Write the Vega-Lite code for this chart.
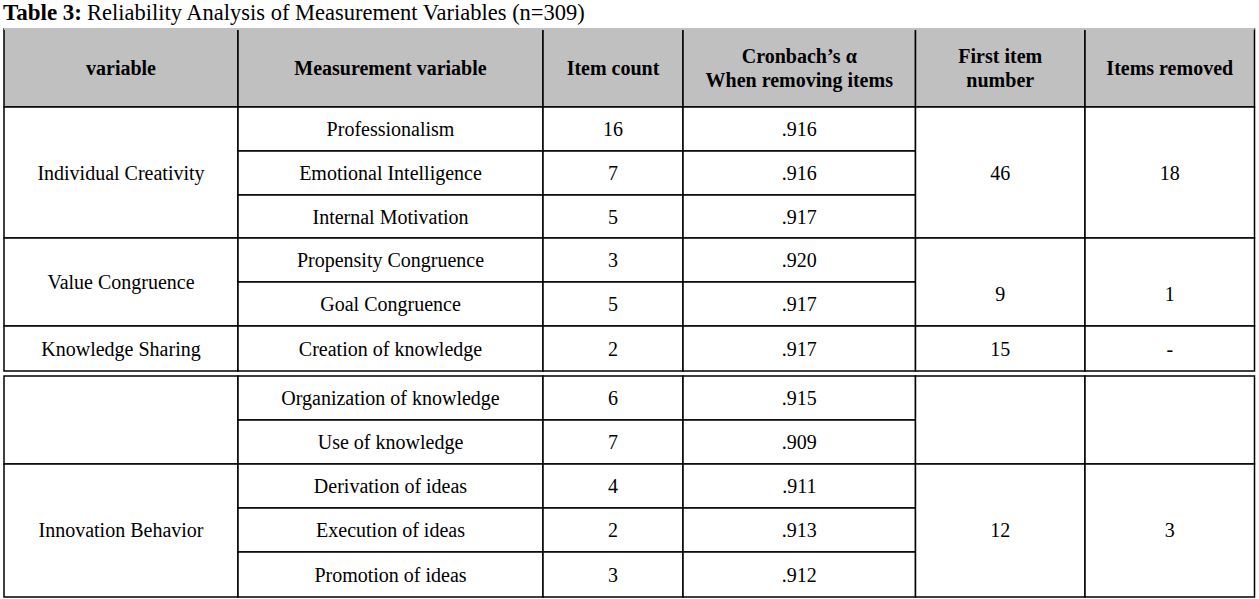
{
  "$schema": "https://vega.github.io/schema/vega-lite/v6.json",
  "width": 1259,
  "height": 599,
  "padding": 0,
  "autosize": {"type": "none"},
  "background": "white",
  "config": {"view": {"stroke": null}},
  "datasets": {
    "cells": [
      {"part": "header", "label": "variable", "c0": 0, "c1": 1, "r0": 0, "r1": 1},
      {"part": "header", "label": "Measurement variable", "c0": 1, "c1": 2, "r0": 0, "r1": 1},
      {"part": "header", "label": "Item count", "c0": 2, "c1": 3, "r0": 0, "r1": 1},
      {"part": "header", "label": "Cronbach’s α\nWhen removing items", "c0": 3, "c1": 4, "r0": 0, "r1": 1},
      {"part": "header", "label": "First item\nnumber", "c0": 4, "c1": 5, "r0": 0, "r1": 1},
      {"part": "header", "label": "Items removed", "c0": 5, "c1": 6, "r0": 0, "r1": 1},

      {"part": "body", "label": "Individual Creativity", "c0": 0, "c1": 1, "r0": 1, "r1": 4},
      {"part": "body", "label": "Value Congruence", "c0": 0, "c1": 1, "r0": 4, "r1": 6},
      {"part": "body", "label": "Knowledge Sharing", "c0": 0, "c1": 1, "r0": 6, "r1": 7},
      {"part": "body", "label": "", "c0": 0, "c1": 1, "r0": 8, "r1": 10},
      {"part": "body", "label": "Innovation Behavior", "c0": 0, "c1": 1, "r0": 10, "r1": 13},

      {"part": "body", "label": "Professionalism", "c0": 1, "c1": 2, "r0": 1, "r1": 2},
      {"part": "body", "label": "Emotional Intelligence", "c0": 1, "c1": 2, "r0": 2, "r1": 3},
      {"part": "body", "label": "Internal Motivation", "c0": 1, "c1": 2, "r0": 3, "r1": 4},
      {"part": "body", "label": "Propensity Congruence", "c0": 1, "c1": 2, "r0": 4, "r1": 5},
      {"part": "body", "label": "Goal Congruence", "c0": 1, "c1": 2, "r0": 5, "r1": 6},
      {"part": "body", "label": "Creation of knowledge", "c0": 1, "c1": 2, "r0": 6, "r1": 7},
      {"part": "body", "label": "Organization of knowledge", "c0": 1, "c1": 2, "r0": 8, "r1": 9},
      {"part": "body", "label": "Use of knowledge", "c0": 1, "c1": 2, "r0": 9, "r1": 10},
      {"part": "body", "label": "Derivation of ideas", "c0": 1, "c1": 2, "r0": 10, "r1": 11},
      {"part": "body", "label": "Execution of ideas", "c0": 1, "c1": 2, "r0": 11, "r1": 12},
      {"part": "body", "label": "Promotion of ideas", "c0": 1, "c1": 2, "r0": 12, "r1": 13},

      {"part": "body", "label": "16", "c0": 2, "c1": 3, "r0": 1, "r1": 2},
      {"part": "body", "label": "7", "c0": 2, "c1": 3, "r0": 2, "r1": 3},
      {"part": "body", "label": "5", "c0": 2, "c1": 3, "r0": 3, "r1": 4},
      {"part": "body", "label": "3", "c0": 2, "c1": 3, "r0": 4, "r1": 5},
      {"part": "body", "label": "5", "c0": 2, "c1": 3, "r0": 5, "r1": 6},
      {"part": "body", "label": "2", "c0": 2, "c1": 3, "r0": 6, "r1": 7},
      {"part": "body", "label": "6", "c0": 2, "c1": 3, "r0": 8, "r1": 9},
      {"part": "body", "label": "7", "c0": 2, "c1": 3, "r0": 9, "r1": 10},
      {"part": "body", "label": "4", "c0": 2, "c1": 3, "r0": 10, "r1": 11},
      {"part": "body", "label": "2", "c0": 2, "c1": 3, "r0": 11, "r1": 12},
      {"part": "body", "label": "3", "c0": 2, "c1": 3, "r0": 12, "r1": 13},

      {"part": "body", "label": ".916", "c0": 3, "c1": 4, "r0": 1, "r1": 2},
      {"part": "body", "label": ".916", "c0": 3, "c1": 4, "r0": 2, "r1": 3},
      {"part": "body", "label": ".917", "c0": 3, "c1": 4, "r0": 3, "r1": 4},
      {"part": "body", "label": ".920", "c0": 3, "c1": 4, "r0": 4, "r1": 5},
      {"part": "body", "label": ".917", "c0": 3, "c1": 4, "r0": 5, "r1": 6},
      {"part": "body", "label": ".917", "c0": 3, "c1": 4, "r0": 6, "r1": 7},
      {"part": "body", "label": ".915", "c0": 3, "c1": 4, "r0": 8, "r1": 9},
      {"part": "body", "label": ".909", "c0": 3, "c1": 4, "r0": 9, "r1": 10},
      {"part": "body", "label": ".911", "c0": 3, "c1": 4, "r0": 10, "r1": 11},
      {"part": "body", "label": ".913", "c0": 3, "c1": 4, "r0": 11, "r1": 12},
      {"part": "body", "label": ".912", "c0": 3, "c1": 4, "r0": 12, "r1": 13},

      {"part": "body", "label": "46", "c0": 4, "c1": 5, "r0": 1, "r1": 4},
      {"part": "body", "label": "9", "c0": 4, "c1": 5, "r0": 4, "r1": 6},
      {"part": "body", "label": "15", "c0": 4, "c1": 5, "r0": 6, "r1": 7},
      {"part": "body", "label": "", "c0": 4, "c1": 5, "r0": 8, "r1": 10},
      {"part": "body", "label": "12", "c0": 4, "c1": 5, "r0": 10, "r1": 13},

      {"part": "body", "label": "18", "c0": 5, "c1": 6, "r0": 1, "r1": 4},
      {"part": "body", "label": "1", "c0": 5, "c1": 6, "r0": 4, "r1": 6},
      {"part": "body", "label": "-", "c0": 5, "c1": 6, "r0": 6, "r1": 7},
      {"part": "body", "label": "", "c0": 5, "c1": 6, "r0": 8, "r1": 10},
      {"part": "body", "label": "3", "c0": 5, "c1": 6, "r0": 10, "r1": 13}
    ]
  },
  "layer": [
    {
      "data": {"name": "cells"},
      "mark": {"type": "rect", "stroke": "#000000", "strokeWidth": 1.5},
      "encoding": {
        "x": {"field": "c0", "type": "quantitative", "axis": null,
              "scale": {"domain": [0, 1, 2, 3, 4, 5, 6], "range": [4, 238, 543, 683, 915.5, 1085, 1254.5], "zero": false, "nice": false}},
        "x2": {"field": "c1"},
        "y": {"field": "r0", "type": "quantitative", "axis": null,
              "scale": {"domain": [-1, 0, 1, 2, 3, 4, 5, 6, 7, 8, 9, 10, 11, 12, 13], "range": [0, 29, 107, 151, 195, 238, 282, 326, 371, 376, 420, 464, 508, 552, 597], "zero": false, "nice": false}},
        "y2": {"field": "r1"},
        "fill": {"field": "part", "type": "nominal", "legend": null,
                 "scale": {"domain": ["header", "body"], "range": ["#c0c0c0", "#ffffff"]}}
      }
    },
    {
      "data": {"values": [{"r": 0, "c0": 0, "c1": 6}]},
      "mark": {"type": "rule", "color": "#c0c0c0", "strokeWidth": 2},
      "encoding": {
        "x": {"field": "c0", "type": "quantitative"},
        "x2": {"field": "c1"},
        "y": {"field": "r", "type": "quantitative"}
      }
    },
    {
      "data": {"name": "cells"},
      "transform": [
        {"filter": "datum.part === 'header' && indexof(datum.label, '\\n') < 0"},
        {"calculate": "(datum.c0 + datum.c1) / 2", "as": "cx"},
        {"calculate": "(datum.r0 + datum.r1) / 2", "as": "cy"}
      ],
      "mark": {"type": "text", "font": "Liberation Serif", "fontSize": 20, "fontWeight": "bold", "align": "center", "baseline": "middle", "dy": 1, "color": "#000000"},
      "encoding": {
        "x": {"field": "cx", "type": "quantitative"},
        "y": {"field": "cy", "type": "quantitative"},
        "text": {"field": "label", "type": "nominal"}
      }
    },
    {
      "data": {"name": "cells"},
      "transform": [
        {"filter": "datum.part === 'header' && indexof(datum.label, '\\n') >= 0"},
        {"calculate": "(datum.c0 + datum.c1) / 2", "as": "cx"},
        {"calculate": "(datum.r0 + datum.r1) / 2", "as": "cy"}
      ],
      "mark": {"type": "text", "font": "Liberation Serif", "fontSize": 20, "fontWeight": "bold", "lineBreak": "\n", "lineHeight": 24, "align": "center", "baseline": "middle", "dy": -11, "color": "#000000"},
      "encoding": {
        "x": {"field": "cx", "type": "quantitative"},
        "y": {"field": "cy", "type": "quantitative"},
        "text": {"field": "label", "type": "nominal"}
      }
    },
    {
      "data": {"name": "cells"},
      "transform": [
        {"filter": "datum.part === 'body' && !(datum.r0 === 4 && datum.c0 >= 4)"},
        {"calculate": "(datum.c0 + datum.c1) / 2", "as": "cx"},
        {"calculate": "(datum.r0 + datum.r1) / 2", "as": "cy"}
      ],
      "mark": {"type": "text", "font": "Liberation Serif", "fontSize": 20, "align": "center", "baseline": "middle", "dy": 1, "color": "#000000"},
      "encoding": {
        "x": {"field": "cx", "type": "quantitative"},
        "y": {"field": "cy", "type": "quantitative"},
        "text": {"field": "label", "type": "nominal"}
      }
    },
    {
      "data": {"name": "cells"},
      "transform": [
        {"filter": "datum.part === 'body' && datum.r0 === 4 && datum.c0 >= 4"},
        {"calculate": "(datum.c0 + datum.c1) / 2", "as": "cx"},
        {"calculate": "(datum.r0 + datum.r1) / 2", "as": "cy"}
      ],
      "mark": {"type": "text", "font": "Liberation Serif", "fontSize": 20, "align": "center", "baseline": "middle", "dy": 13, "color": "#000000"},
      "encoding": {
        "x": {"field": "cx", "type": "quantitative"},
        "y": {"field": "cy", "type": "quantitative"},
        "text": {"field": "label", "type": "nominal"}
      }
    },
    {
      "data": {"values": [{"label": "Table 3:", "c": 0, "r": -0.55}]},
      "mark": {"type": "text", "font": "Liberation Serif", "fontSize": 23, "fontWeight": "bold", "align": "left", "baseline": "middle", "dx": -1, "color": "#000000"},
      "encoding": {
        "x": {"field": "c", "type": "quantitative"},
        "y": {"field": "r", "type": "quantitative"},
        "text": {"field": "label", "type": "nominal"}
      }
    },
    {
      "data": {"values": [{"label": "Reliability Analysis of Measurement Variables (n=309)", "c": 0, "r": -0.55}]},
      "mark": {"type": "text", "font": "Liberation Serif", "fontSize": 22.5, "align": "left", "baseline": "middle", "dx": 83, "color": "#000000"},
      "encoding": {
        "x": {"field": "c", "type": "quantitative"},
        "y": {"field": "r", "type": "quantitative"},
        "text": {"field": "label", "type": "nominal"}
      }
    }
  ]
}
